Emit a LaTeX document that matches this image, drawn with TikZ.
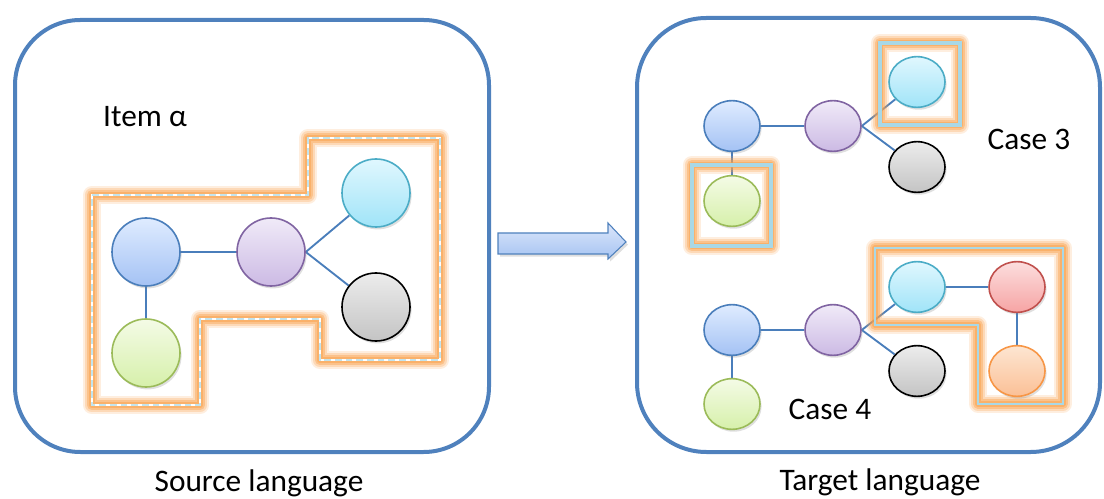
\documentclass[tikz,border=0pt]{standalone}
\usepackage{fontspec}
\setmainfont{Carlito}
\usetikzlibrary{shapes.geometric,shadows}
\definecolor{boxblue}{HTML}{4F81BD}
\definecolor{edgeblue}{HTML}{4A7EBB}
\definecolor{glow}{HTML}{F9A24E}
\definecolor{lblue}{HTML}{A9D8E6}
\pgfdeclarelayer{edges}
\pgfdeclarelayer{glowl}
\pgfsetlayers{edges,glowl,main}
\tikzset{
  frame/.style={draw=boxblue, line width=3pt},
  lbl/.style={font=\fontsize{23.5}{27}\selectfont, inner sep=0pt},
  conn/.style={draw=edgeblue, line width=1.4pt},
  dot/.style={circle, minimum size=51pt, inner sep=0pt, line width=1.2pt,
     drop shadow={shadow xshift=1.2pt, shadow yshift=-1.8pt, opacity=0.25}},
  edot/.style={ellipse, minimum width=42pt, minimum height=38pt, inner sep=0pt, line width=1.2pt,
     drop shadow={shadow xshift=1.2pt, shadow yshift=-1.8pt, opacity=0.25}},
  cblue/.style={draw=edgeblue, top color=blue!8!white!95!cyan, bottom color={rgb,255:red,164;green,194;blue,244}},
  cpurple/.style={draw={rgb,255:red,128;green,100;blue,162}, top color={rgb,255:red,240;green,234;blue,248}, bottom color={rgb,255:red,204;green,186;blue,228}},
  ccyan/.style={draw={rgb,255:red,75;green,172;blue,198}, top color={rgb,255:red,224;green,247;blue,254}, bottom color={rgb,255:red,160;green,228;blue,248}},
  cgray/.style={draw=black, top color={rgb,255:red,236;green,236;blue,236}, bottom color={rgb,255:red,196;green,196;blue,196}},
  cgreen/.style={draw={rgb,255:red,155;green,187;blue,89}, top color={rgb,255:red,244;green,251;blue,230}, bottom color={rgb,255:red,214;green,240;blue,170}},
  cred/.style={draw={rgb,255:red,192;green,80;blue,77}, top color={rgb,255:red,252;green,222;blue,222}, bottom color={rgb,255:red,246;green,164;blue,164}},
  corange/.style={draw={rgb,255:red,247;green,150;blue,70}, top color={rgb,255:red,253;green,230;blue,210}, bottom color={rgb,255:red,251;green,192;blue,150}},
}
\begin{document}
\begin{tikzpicture}[x=0.75pt, y=-0.75pt]
\useasboundingbox (0,0) rectangle (1104,499);
% frames
\draw[frame, rounded corners=49pt] (15,20) rectangle (489,452);
\draw[frame, rounded corners=52pt] (637,18) rectangle (1100,452);
% labels
\node[lbl] (item) at (145,117) {Item α};
\node[lbl] (src) at (259,483) {Source language};
\node[lbl] (tgt) at (880,482) {Target language};
\node[lbl] (c3) at (1029,139) {Case 3};
\node[lbl] (c4) at (830,409) {Case 4};
% arrow
\draw[draw=boxblue, line width=0.8pt, top color={rgb,255:red,220;green,230;blue,250}, bottom color={rgb,255:red,166;green,196;blue,242},
  drop shadow={shadow xshift=1.5pt, shadow yshift=-2pt, opacity=0.25}]
  (498,233) -- (608,233) -- (608,223) -- (626,242) -- (608,259) -- (608,254) -- (498,254) -- cycle;
% left graph
\node[dot,cblue] (a1) at (146,252) {};
\node[dot,cpurple] (b1) at (271,252) {};
\node[dot,ccyan] (c1) at (376,193) {};
\node[dot,cgray] (d1) at (376,307) {};
\node[dot,cgreen] (e1) at (146,353) {};
% right top graph
\node[edot,cblue] (a2) at (732,126) {};
\node[edot,cpurple] (b2) at (833,126) {};
\node[edot,ccyan] (c2) at (917,82) {};
\node[edot,cgray] (d2) at (917,167) {};
\node[edot,cgreen] (e2) at (732,201) {};
% right bottom graph
\node[edot,cblue] (a3) at (732,330) {};
\node[edot,cpurple] (b3) at (833,330) {};
\node[edot,ccyan] (c3n) at (917,287) {};
\node[edot,cred] (r3) at (1017,287) {};
\node[edot,cgray] (d3) at (917,371) {};
\node[edot,corange] (o3) at (1017,371) {};
\node[edot,cgreen] (e3) at (732,404) {};
\begin{pgfonlayer}{edges}
\draw[conn] (a1) -- (b1);
\draw[conn] (a1) -- (e1);
\draw[conn] (b1.east) -- (c1);
\draw[conn] (b1.east) -- (d1);
\draw[conn] (a2) -- (b2);
\draw[conn] (a2) -- (e2);
\draw[conn] (b2.east) -- (c2);
\draw[conn] (b2.east) -- (d2);
\draw[conn] (a3) -- (b3);
\draw[conn] (a3) -- (e3);
\draw[conn] (b3.east) -- (c3n);
\draw[conn] (b3.east) -- (d3);
\draw[conn] (c3n) -- (r3);
\draw[conn] (r3) -- (o3);
\end{pgfonlayer}
\begin{pgfonlayer}{glowl}
% left selection
\def\lpath{(92,195) -- (308,195) -- (308,138) -- (440,138) -- (440,360) -- (320,360) -- (320,319) -- (200,319) -- (200,405) -- (92,405) -- cycle}
\foreach \w/\o in {14/0.18,11/0.28,8/0.42,5/0.55}
  \draw[glow, line width=\w pt, opacity=\o, line join=round] \lpath;
\draw[white, line width=1.6pt] \lpath;
\draw[lblue!70!white, line width=1.2pt, dash pattern=on 5pt off 3pt] \lpath;
% top boxes
\foreach \w/\o in {14/0.18,11/0.28,8/0.42,5/0.55} {
  \draw[glow, line width=\w pt, opacity=\o, line join=round] (880,43) rectangle (960,125);
  \draw[glow, line width=\w pt, opacity=\o, line join=round] (692,165) rectangle (771,246);
}
\draw[lblue, line width=3.6pt] (880,43) rectangle (960,125);
\draw[lblue, line width=3.6pt] (692,165) rectangle (771,246);
% bottom right selection
\def\rpath{(875,248) -- (1063,248) -- (1063,404) -- (978,404) -- (978,325) -- (875,325) -- cycle}
\foreach \w/\o in {13/0.18,10/0.28,7/0.42,4/0.55}
  \draw[glow, line width=\w pt, opacity=\o, line join=round] \rpath;
\draw[lblue, line width=1.3pt] \rpath;
\end{pgfonlayer}
\end{tikzpicture}
\end{document}
